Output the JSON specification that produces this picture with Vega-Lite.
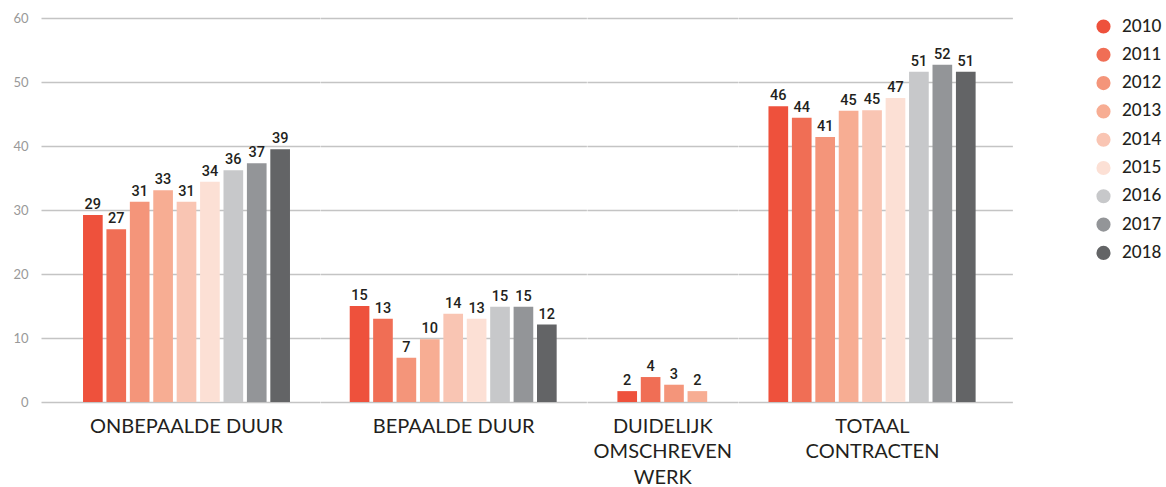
{
  "$schema": "https://vega.github.io/schema/vega-lite/v6.json",
  "background": "white",
  "padding": {"left": 12, "top": 12, "right": 0, "bottom": 0},
  "spacing": 0,
  "data": {"values": [
    {"category": "ONBEPAALDE DUUR", "year": "2010", "value": 29.2, "label": 29},
    {"category": "ONBEPAALDE DUUR", "year": "2011", "value": 27.0, "label": 27},
    {"category": "ONBEPAALDE DUUR", "year": "2012", "value": 31.3, "label": 31},
    {"category": "ONBEPAALDE DUUR", "year": "2013", "value": 33.1, "label": 33},
    {"category": "ONBEPAALDE DUUR", "year": "2014", "value": 31.3, "label": 31},
    {"category": "ONBEPAALDE DUUR", "year": "2015", "value": 34.4, "label": 34},
    {"category": "ONBEPAALDE DUUR", "year": "2016", "value": 36.2, "label": 36},
    {"category": "ONBEPAALDE DUUR", "year": "2017", "value": 37.3, "label": 37},
    {"category": "ONBEPAALDE DUUR", "year": "2018", "value": 39.5, "label": 39},
    {"category": "BEPAALDE DUUR", "year": "2010", "value": 15.0, "label": 15},
    {"category": "BEPAALDE DUUR", "year": "2011", "value": 13.0, "label": 13},
    {"category": "BEPAALDE DUUR", "year": "2012", "value": 6.9, "label": 7},
    {"category": "BEPAALDE DUUR", "year": "2013", "value": 9.8, "label": 10},
    {"category": "BEPAALDE DUUR", "year": "2014", "value": 13.8, "label": 14},
    {"category": "BEPAALDE DUUR", "year": "2015", "value": 13.0, "label": 13},
    {"category": "BEPAALDE DUUR", "year": "2016", "value": 14.9, "label": 15},
    {"category": "BEPAALDE DUUR", "year": "2017", "value": 14.9, "label": 15},
    {"category": "BEPAALDE DUUR", "year": "2018", "value": 12.1, "label": 12},
    {"category": "DUIDELIJK OMSCHREVEN WERK", "year": "2010", "value": 1.7, "label": 2},
    {"category": "DUIDELIJK OMSCHREVEN WERK", "year": "2011", "value": 3.9, "label": 4},
    {"category": "DUIDELIJK OMSCHREVEN WERK", "year": "2012", "value": 2.7, "label": 3},
    {"category": "DUIDELIJK OMSCHREVEN WERK", "year": "2013", "value": 1.7, "label": 2},
    {"category": "TOTAAL CONTRACTEN", "year": "2010", "value": 46.2, "label": 46},
    {"category": "TOTAAL CONTRACTEN", "year": "2011", "value": 44.4, "label": 44},
    {"category": "TOTAAL CONTRACTEN", "year": "2012", "value": 41.4, "label": 41},
    {"category": "TOTAAL CONTRACTEN", "year": "2013", "value": 45.5, "label": 45},
    {"category": "TOTAAL CONTRACTEN", "year": "2014", "value": 45.6, "label": 45},
    {"category": "TOTAAL CONTRACTEN", "year": "2015", "value": 47.5, "label": 47},
    {"category": "TOTAAL CONTRACTEN", "year": "2016", "value": 51.6, "label": 51},
    {"category": "TOTAAL CONTRACTEN", "year": "2017", "value": 52.7, "label": 52},
    {"category": "TOTAAL CONTRACTEN", "year": "2018", "value": 51.6, "label": 51}
  ]},
  "hconcat": [
    {
      "width": 278.6, "height": 384,
      "transform": [{"filter": "datum.category === 'ONBEPAALDE DUUR'"}],
      "encoding": {
        "x": {"field": "year", "type": "nominal",
              "scale": {"domain": ["_a","2010","2011","2012","2013","2014","2015","2016","2017","2018","_b"], "paddingInner": 0.16, "paddingOuter": 0.53, "align": 0.75},
              "axis": {"labels": false, "ticks": false, "domain": false, "title": "ONBEPAALDE DUUR", "titleX": 145}},
        "y": {"field": "value", "type": "quantitative", "scale": {"domain": [0, 60], "nice": false},
              "axis": {"title": null, "values": [0, 10, 20, 30, 40, 50, 60], "ticks": false, "domain": false, "labelPadding": 13, "labelColor": "#999999", "labelFontSize": 13, "labelFont": "Lato"}}
      },
      "layer": [
        {"mark": {"type": "bar"}, "encoding": {"color": {"field": "year", "type": "nominal", "scale": {"domain": ["2010","2011","2012","2013","2014","2015","2016","2017","2018"], "range": ["#EE513C", "#F06E55", "#F4957A", "#F7AD93", "#F9C5B3", "#FCE0D5", "#C7C8CA", "#939598", "#636466"]}}}},
        {"mark": {"type": "text", "baseline": "bottom", "dy": -3, "font": "Roboto", "fontSize": 14.5, "fontWeight": 500, "color": "#231F20"}, "encoding": {"text": {"field": "label"}}}
      ]
    },
    {
      "width": 266.4, "height": 384,
      "transform": [{"filter": "datum.category === 'BEPAALDE DUUR'"}],
      "encoding": {
        "x": {"field": "year", "type": "nominal",
              "scale": {"domain": ["_a","2010","2011","2012","2013","2014","2015","2016","2017","2018","_b"], "paddingInner": 0.16, "paddingOuter": 0.27, "align": 0.5},
              "axis": {"labels": false, "ticks": false, "domain": false, "title": "BEPAALDE DUUR"}},
        "y": {"field": "value", "type": "quantitative", "scale": {"domain": [0, 60], "nice": false},
              "axis": {"title": null, "values": [0, 10, 20, 30, 40, 50, 60], "labels": false, "ticks": false, "domain": false}}
      },
      "layer": [
        {"mark": {"type": "bar"}, "encoding": {"color": {"field": "year", "type": "nominal"}}},
        {"mark": {"type": "text", "baseline": "bottom", "dy": -3, "font": "Roboto", "fontSize": 14.5, "fontWeight": 500, "color": "#231F20"}, "encoding": {"text": {"field": "label"}}}
      ]
    },
    {
      "width": 150.6, "height": 384,
      "transform": [{"filter": "datum.category === 'DUIDELIJK OMSCHREVEN WERK'"}],
      "encoding": {
        "x": {"field": "year", "type": "nominal",
              "scale": {"domain": ["_a","2010","2011","2012","2013","_b"], "paddingInner": 0.16, "paddingOuter": 0.3, "align": 0.5},
              "axis": {"labels": false, "ticks": false, "domain": false, "title": ["DUIDELIJK", "OMSCHREVEN", "WERK"]}},
        "y": {"field": "value", "type": "quantitative", "scale": {"domain": [0, 60], "nice": false},
              "axis": {"title": null, "values": [0, 10, 20, 30, 40, 50, 60], "labels": false, "ticks": false, "domain": false}}
      },
      "layer": [
        {"mark": {"type": "bar"}, "encoding": {"color": {"field": "year", "type": "nominal"}}},
        {"mark": {"type": "text", "baseline": "bottom", "dy": -3, "font": "Roboto", "fontSize": 14.5, "fontWeight": 500, "color": "#231F20"}, "encoding": {"text": {"field": "label"}}}
      ]
    },
    {
      "width": 274.4, "height": 384,
      "transform": [{"filter": "datum.category === 'TOTAAL CONTRACTEN'"}],
      "encoding": {
        "x": {"field": "year", "type": "nominal",
              "scale": {"domain": ["_a","2010","2011","2012","2013","2014","2015","2016","2017","2018","_b"], "paddingInner": 0.16, "paddingOuter": 0.435, "align": 0.345},
              "axis": {"labels": false, "ticks": false, "domain": false, "title": ["TOTAAL", "CONTRACTEN"], "titleX": 134}},
        "y": {"field": "value", "type": "quantitative", "scale": {"domain": [0, 60], "nice": false},
              "axis": {"title": null, "values": [0, 10, 20, 30, 40, 50, 60], "labels": false, "ticks": false, "domain": false}}
      },
      "layer": [
        {"mark": {"type": "bar"}, "encoding": {"color": {"field": "year", "type": "nominal"}}},
        {"mark": {"type": "text", "baseline": "bottom", "dy": -3, "font": "Roboto", "fontSize": 14.5, "fontWeight": 500, "color": "#231F20"}, "encoding": {"text": {"field": "label"}}}
      ]
    }
  ],
  "resolve": {"scale": {"color": "shared"}},
  "config": {
    "view": {"stroke": "transparent", "strokeWidth": 0},
    "axis": {
      "domain": false,
      "gridColor": "#C4C4C4", "gridWidth": 1.5,
      "titleFont": "Lato", "titleFontSize": 20, "titleFontWeight": "normal", "titleColor": "#231F20",
      "titlePadding": 14, "titleLineHeight": 25.5
    },
    "axisX": {"grid": false},
    "legend": {
      "orient": "right", "offset": 82, "title": null,
      "symbolType": "circle", "symbolSize": 200, "symbolStrokeWidth": 0,
      "labelFont": "Lato", "labelFontSize": 17, "labelFontWeight": 500, "labelColor": "#231F20",
      "labelOffset": 10, "rowPadding": 10.3
    }
  }
}
